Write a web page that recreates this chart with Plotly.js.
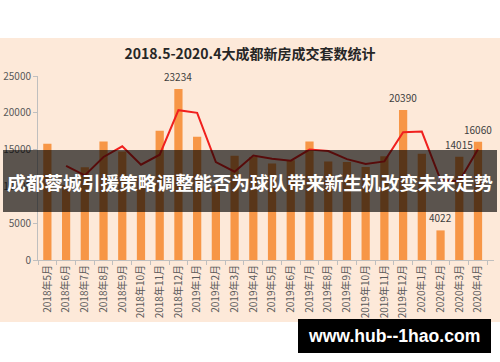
<!DOCTYPE html>
<html>
<head>
<meta charset="utf-8">
<script src="https://cdn.plot.ly/plotly-3.0.1.min.js"></script>
<style>
html,body{margin:0;padding:0;background:#ffffff;}
#chart{width:500px;height:362px;}
</style>
</head>
<body>
<div id="chart"></div>
<script>
// ---- data ----
const months = ['2018年5月','2018年6月','2018年7月','2018年8月','2018年9月','2018年10月','2018年11月','2018年12月',
  '2019年1月','2019年2月','2019年3月','2019年4月','2019年5月','2019年6月','2019年7月','2019年8月',
  '2019年9月','2019年10月','2019年11月','2019年12月','2020年1月','2020年2月','2020年3月','2020年4月'];
const sales = [15800, 10200, 12600, 16100, 14750, 11200, 17550, 23234,
  16750, 10000, 14150, 14000, 13100, 13550, 16100, 13400,
  13300, 12650, 14100, 20390, 14450, 4022, 14015, 16060];
const trend = [null, 12800, 11500, 14000, 15450, 12950, 14300, 20350,
  20000, 13300, 12000, 14200, 13750, 13500, 15000, 14800,
  13700, 13050, 13400, 17350, 17450, 10900, 10700, 15050];
const labelled = ['2018年12月','2019年12月','2020年2月','2020年3月','2020年4月'];
const titleText = '2018.5-2020.4大成都新房成交套数统计';
const bannerText = '成都蓉城引援策略调整能否为球队带来新生机改变未来走势';
const watermarkText = 'www.hub--1hao.com';

// ---- layout helpers (pixel -> paper) ----
const W = 500, H = 362, ML = 38, MR = 6, MT = 76, MB = 102;
const PW = W - ML - MR, PH = H - MT - MB;
const px = x => (x - ML) / PW;
const py = y => (H - MB - y) / PH;

const cjk = '"Noto Sans CJK SC", "Noto Sans", sans-serif';

const labelAnns = labelled.map(m => {
  const i = months.indexOf(m);
  return {
    x: m, y: sales[i], xref: 'x', yref: 'y', text: String(sales[i]),
    showarrow: false, yanchor: 'bottom', yshift: 3,
    font: {family: cjk, size: 10, color: '#404040'}
  };
});

const data = [
  {
    type: 'bar', x: months, y: sales,
    marker: {color: '#f79646'},
    hoverinfo: 'skip'
  },
  {
    type: 'scatter', mode: 'lines', x: months, y: trend,
    line: {color: '#f0201e', width: 2},
    connectgaps: false, hoverinfo: 'skip'
  }
];

const layout = {
  width: W, height: H,
  margin: {l: ML, r: MR, t: MT, b: MB, pad: 0},
  paper_bgcolor: '#ffffff',
  plot_bgcolor: 'rgba(0,0,0,0)',
  showlegend: false,
  bargap: 0.56,
  font: {family: cjk, size: 10, color: '#595959'},
  title: {
    text: '<b>' + titleText + '</b>',
    xref: 'container', x: 0.5, xanchor: 'center',
    yref: 'container', y: 1 - 54 / H, yanchor: 'middle',
    font: {family: cjk, size: 14, color: '#262626'}
  },
  xaxis: {
    type: 'category',
    tickangle: -90,
    ticks: 'outside', tickson: 'boundaries', ticklen: 4, tickcolor: '#bfbfbf',
    showline: true, linecolor: '#bfbfbf', linewidth: 1,
    showgrid: false, zeroline: false,
    tickfont: {family: cjk, size: 10, color: '#595959'},
    fixedrange: true
  },
  yaxis: {
    range: [0, 25000], dtick: 5000, tick0: 0, tickformat: 'd',
    ticks: 'outside', ticklen: 4, tickcolor: '#bfbfbf',
    showline: true, linecolor: '#bfbfbf', linewidth: 1,
    showgrid: false, zeroline: false,
    tickfont: {family: cjk, size: 10, color: '#595959'},
    fixedrange: true
  },
  shapes: [
    {type: 'rect', xref: 'paper', yref: 'paper', layer: 'below',
     x0: px(0), x1: px(500), y0: py(322), y1: py(38),
     fillcolor: '#fde9d9', line: {width: 0}},
    {type: 'rect', xref: 'paper', yref: 'paper', layer: 'above',
     x0: px(3), x1: px(497), y0: py(212), y1: py(150),
     fillcolor: 'rgba(0,0,0,0.64)', line: {width: 0}},
    {type: 'rect', xref: 'paper', yref: 'paper', layer: 'above',
     x0: px(298), x1: px(491), y0: py(353), y1: py(319),
     fillcolor: '#000000', line: {width: 0}}
  ],
  annotations: labelAnns.concat([
    {xref: 'paper', yref: 'paper', x: px(250), y: py(181), xanchor: 'center', yanchor: 'middle',
     text: '<b>' + bannerText + '</b>', showarrow: false,
     font: {family: cjk, size: 18.7, color: '#ffffff'}},
    {xref: 'paper', yref: 'paper', x: px(394), y: py(336), xanchor: 'center', yanchor: 'middle',
     text: '<b>' + watermarkText + '</b>', showarrow: false,
     font: {family: '"Liberation Sans", Arial, sans-serif', size: 17.6, color: '#ffffff'}}
  ])
};

Plotly.newPlot('chart', data, layout, {staticPlot: true, displayModeBar: false});
</script>
</body>
</html>
